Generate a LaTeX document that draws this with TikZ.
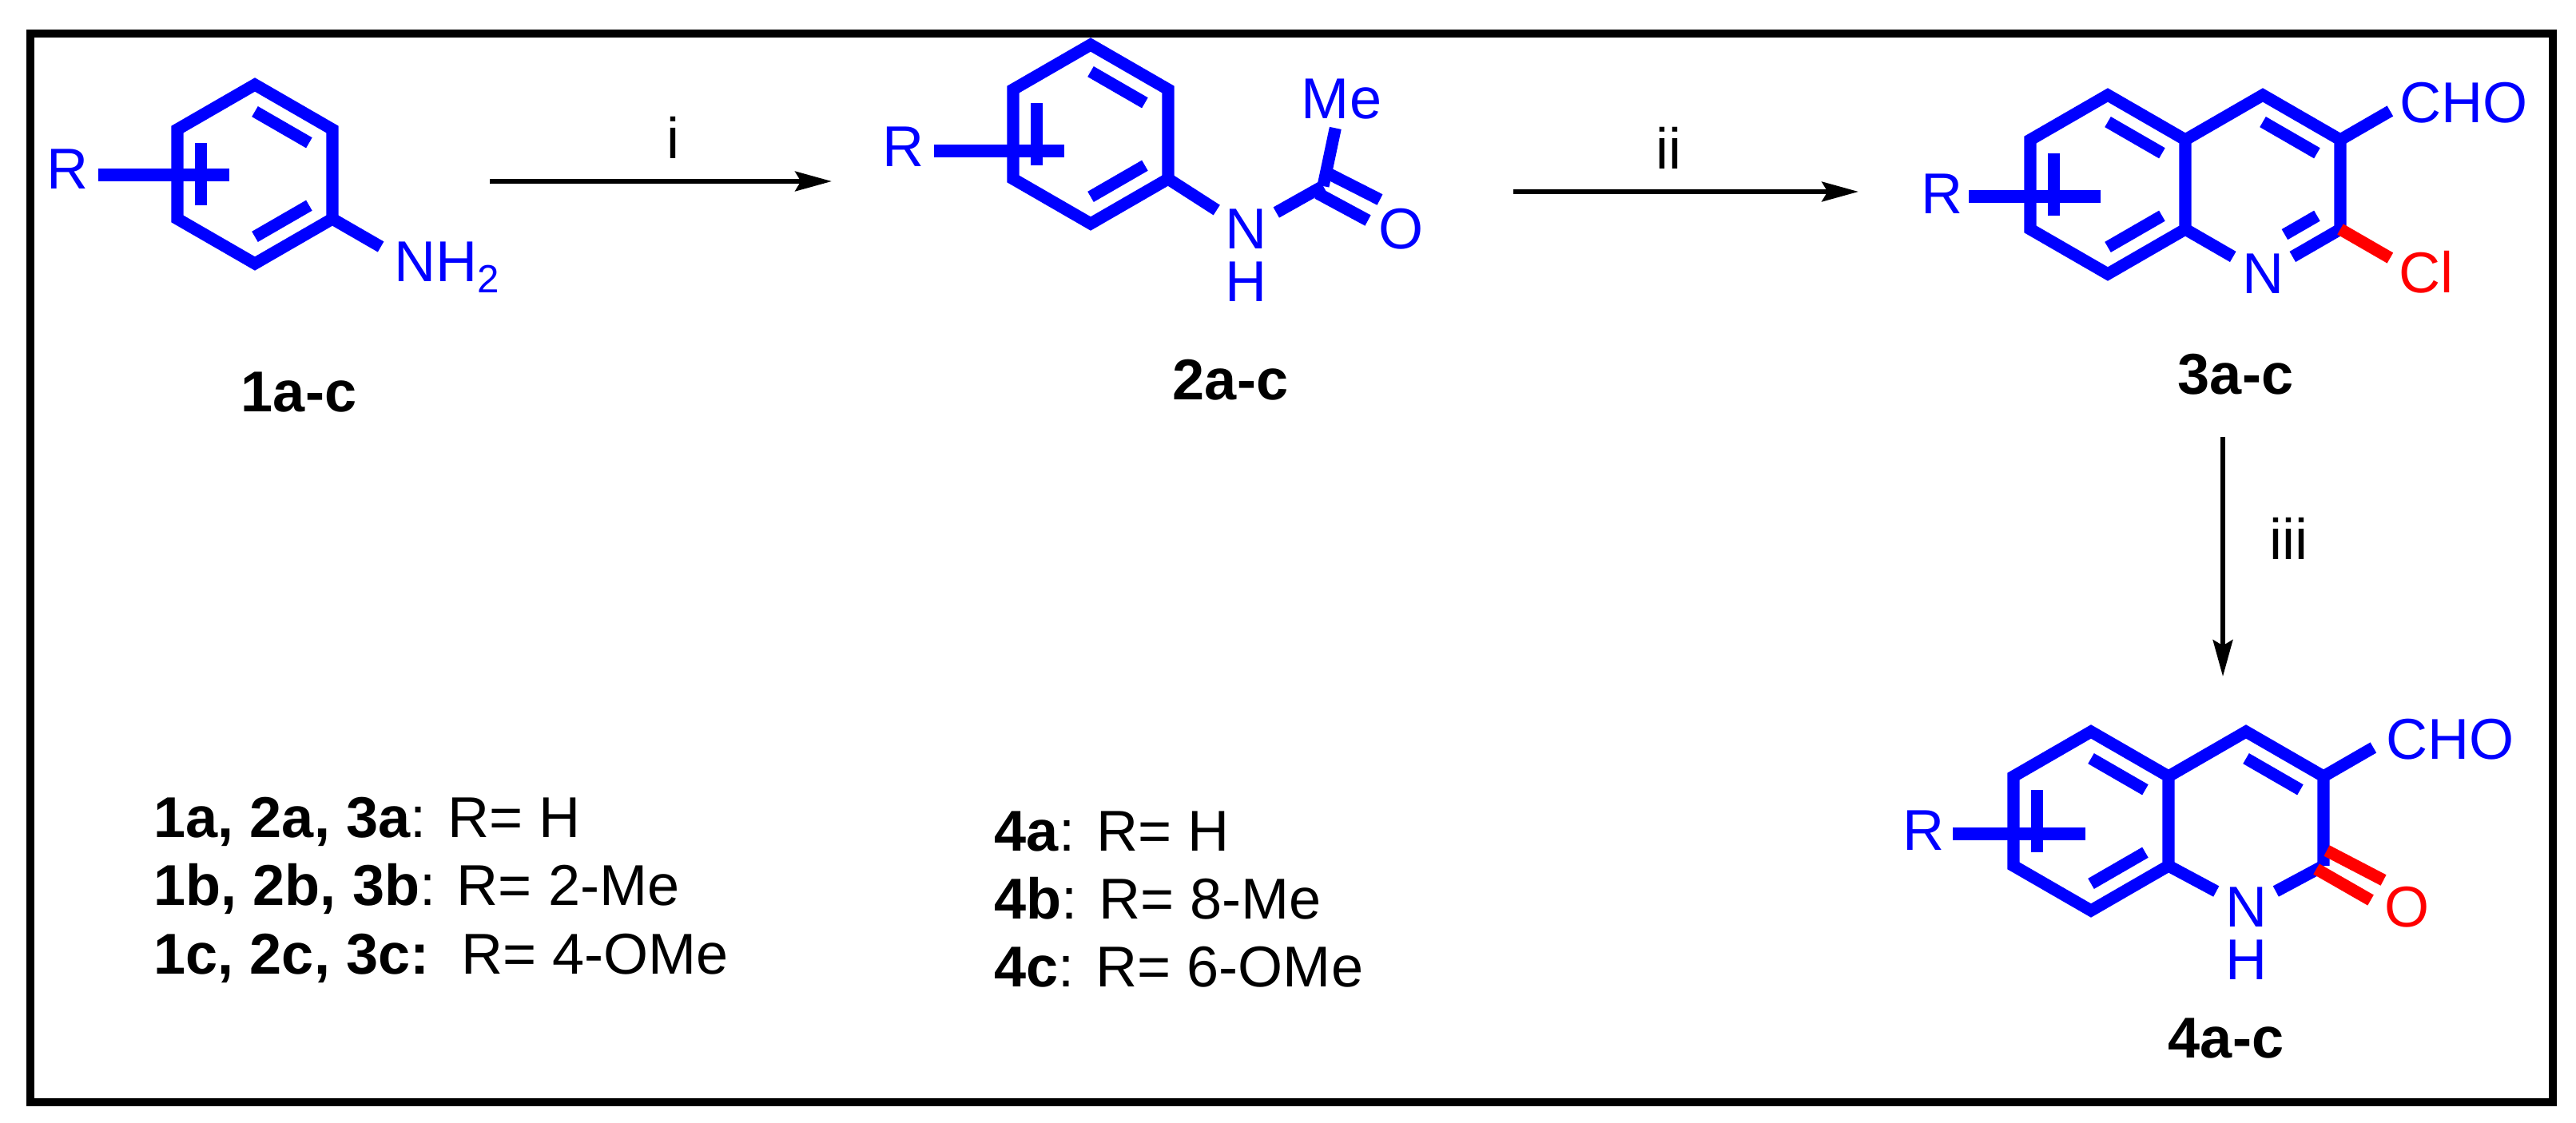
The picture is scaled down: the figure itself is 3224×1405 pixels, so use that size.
\documentclass[tikz,border=0pt]{standalone}
\usepackage{fontspec}
\setmainfont{Liberation Sans}
\usetikzlibrary{calc,arrows.meta}
\definecolor{chemblue}{RGB}{0,0,255}
\definecolor{chemred}{RGB}{255,0,0}
\newcommand\hexring[2]{\foreach \i/\a in {1/90,2/30,3/-30,4/-90,5/-150,6/150}{\coordinate (#1\i) at ($(#2)+(\a:112)$);}}
\newcommand\ib[3]{\draw[bond] ($(#3)!0.7!(#1)$) -- ($(#3)!0.7!(#2)$);}
\begin{document}
\begin{tikzpicture}[x=0.01cm,y=0.01cm,
  bond/.style={chemblue,line width=4.3pt,line join=miter},
  rbond/.style={chemred,line width=4.3pt},
  atom/.style={text=chemblue,inner sep=3pt,font=\fontsize{20.5}{24}\selectfont},
  hatom/.style={text=chemblue,inner sep=0pt,font=\fontsize{20.5}{24}\selectfont},
  ratom/.style={text=chemred,inner sep=3pt,font=\fontsize{20.5}{24}\selectfont},
  lbl/.style={inner sep=0pt,font=\fontsize{20.5}{24}\selectfont},
  rxn/.style={line width=1.7pt,-{Stealth[length=13pt,width=7pt,inset=2pt]}}]
\useasboundingbox (0,0) rectangle (3224,1405);
\draw[line width=2.6pt] (38,25) rectangle (3195,1363);

% ---- compound 1
\coordinate (c1) at (319,1187);
\hexring{a}{c1}
\draw[bond] (a1)--(a2)--(a3)--(a4)--(a5)--(a6)--cycle;
\ib{a1}{a2}{c1}\ib{a3}{a4}{c1}\ib{a5}{a6}{c1}
\draw[bond] (123,1186) -- (287,1186);
\node[atom] (r1) at (85,1193) {R};
\coordinate (nb1) at ($(a3)+(-30:70)$);
\draw[bond] (a3) -- (nb1);
\node[atom,anchor=base west,inner sep=0pt] (nh2) at (493,1052) {NH\raisebox{-0.35ex}{\fontsize{14}{16}\selectfont 2}};
\node[lbl,font=\fontsize{20.5}{24}\selectfont\bfseries] (l1) at (374,914) {1a-c};

% ---- arrow i
\coordinate (ia) at (613,1178); \coordinate (ib) at (1041,1178);
\draw[rxn] (ia) -- (ib);
\node[lbl] (li) at (842,1233) {i};

% ---- compound 2
\coordinate (c2) at (1365,1237);
\hexring{b}{c2}
\draw[bond] (b1)--(b2)--(b3)--(b4)--(b5)--(b6)--cycle;
\ib{b1}{b2}{c2}\ib{b3}{b4}{c2}\ib{b5}{b6}{c2}
\draw[bond] (1169,1216) -- (1332,1216);
\node[atom] (r2) at (1131,1221) {R};
\node[atom] (n2) at (1560,1118) {N};
\node[hatom] (h2) at (1560,1052) {H};
\coordinate (cc2) at (1656,1172);
\draw[bond] (b3) -- (n2);
\draw[bond] (n2) -- (cc2);
\node[atom] (me2) at (1679,1281) {Me};
\draw[bond] (cc2) -- (me2);
\node[atom] (o2) at (1754,1118) {O};
\draw[bond] (1664,1187) -- (1727,1155);
\draw[bond] (1649,1163) -- (1712,1129);
\node[lbl,font=\fontsize{20.5}{24}\selectfont\bfseries] (l2) at (1540,929) {2a-c};

% ---- arrow ii
\coordinate (iia) at (1894,1165); \coordinate (iib) at (2326,1165);
\draw[rxn] (iia) -- (iib);
\node[lbl] (lii) at (2088,1220) {ii};

% ---- compound 3
\coordinate (c3) at (2638,1174);
\coordinate (d3) at (2832,1174);
\hexring{p}{c3}
\hexring{q}{d3}
\draw[bond] (p1)--(p2)--(p3)--(p4)--(p5)--(p6)--cycle;
\ib{p1}{p2}{c3}\ib{p3}{p4}{c3}\ib{p5}{p6}{c3}
\draw[bond] (p2)--(q1)--(q2)--(q3);
\node[atom] (n3) at (q4) {N};
\draw[bond] (q3) -- (n3);
\draw[bond] (p3) -- (n3);
\ib{q1}{q2}{d3}
\draw[bond,shorten >=9pt] ($(d3)!0.7!(q3)$) -- ($(d3)!0.7!(q4)$);
\draw[bond] (2464,1159) -- (2629,1159);
\node[atom] (r3) at (2430,1162) {R};
\coordinate (cb3) at ($(q2)+(30:72)$);
\draw[bond] (q2) -- (cb3);
\node[atom,anchor=west,inner sep=0pt] (cho3) at (3003,1276) {CHO};
\coordinate (clb) at ($(q3)+(-30:72)$);
\draw[rbond] (q3) -- (clb);
\node[ratom] (cl3) at (3036,1064) {Cl};
\node[lbl,font=\fontsize{20.5}{24}\selectfont\bfseries] (l3) at (2798,936) {3a-c};

% ---- arrow iii
\coordinate (iiia) at (2782,858); \coordinate (iiib) at (2782,558);
\draw[rxn] (iiia) -- (iiib);
\node[lbl] (liii) at (2864,731) {iii};

% ---- compound 4
\coordinate (c4) at (2617,377);
\coordinate (d4) at (2811,377);
\hexring{s}{c4}
\hexring{t}{d4}
\draw[bond] (s1)--(s2)--(s3)--(s4)--(s5)--(s6)--cycle;
\ib{s1}{s2}{c4}\ib{s3}{s4}{c4}\ib{s5}{s6}{c4}
\draw[bond] (s2)--(t1)--(t2)--(t3);
\ib{t1}{t2}{d4}
\node[atom] (n4) at (2811,269) {N};
\node[hatom] (h4) at (2811,203) {H};
\draw[bond] (t3) -- (n4);
\draw[bond] (s3) -- (n4);
\draw[bond] (2444,361) -- (2610,361);
\node[atom] (r4) at (2407,365) {R};
\coordinate (cb4) at ($(t2)+(30:72)$);
\draw[bond] (t2) -- (cb4);
\node[atom,anchor=west,inner sep=0pt] (cho4) at (2986,479) {CHO};
\node[ratom] (o4) at (3012,269) {O};
\draw[rbond] (2912,340) -- (2983,303);
\draw[rbond] (2899,317) -- (2967,278);
\node[lbl,font=\fontsize{20.5}{24}\selectfont\bfseries] (l4) at (2786,105) {4a-c};

% ---- legend
\node[lbl,anchor=base west] (t1a) at (192,357) {\textbf{1a, 2a, 3a}: R= H};
\node[lbl,anchor=base west] (t1b) at (192,272) {\textbf{1b, 2b, 3b}: R= 2-Me};
\node[lbl,anchor=base west] (t1c) at (192,186) {\textbf{1c, 2c, 3c:}\ \ R= 4-OMe};
\node[lbl,anchor=base west] (t4a) at (1244,340) {\textbf{4a}: R= H};
\node[lbl,anchor=base west] (t4b) at (1244,255) {\textbf{4b}: R= 8-Me};
\node[lbl,anchor=base west] (t4c) at (1244,170) {\textbf{4c}: R= 6-OMe};
\end{tikzpicture}
\end{document}
